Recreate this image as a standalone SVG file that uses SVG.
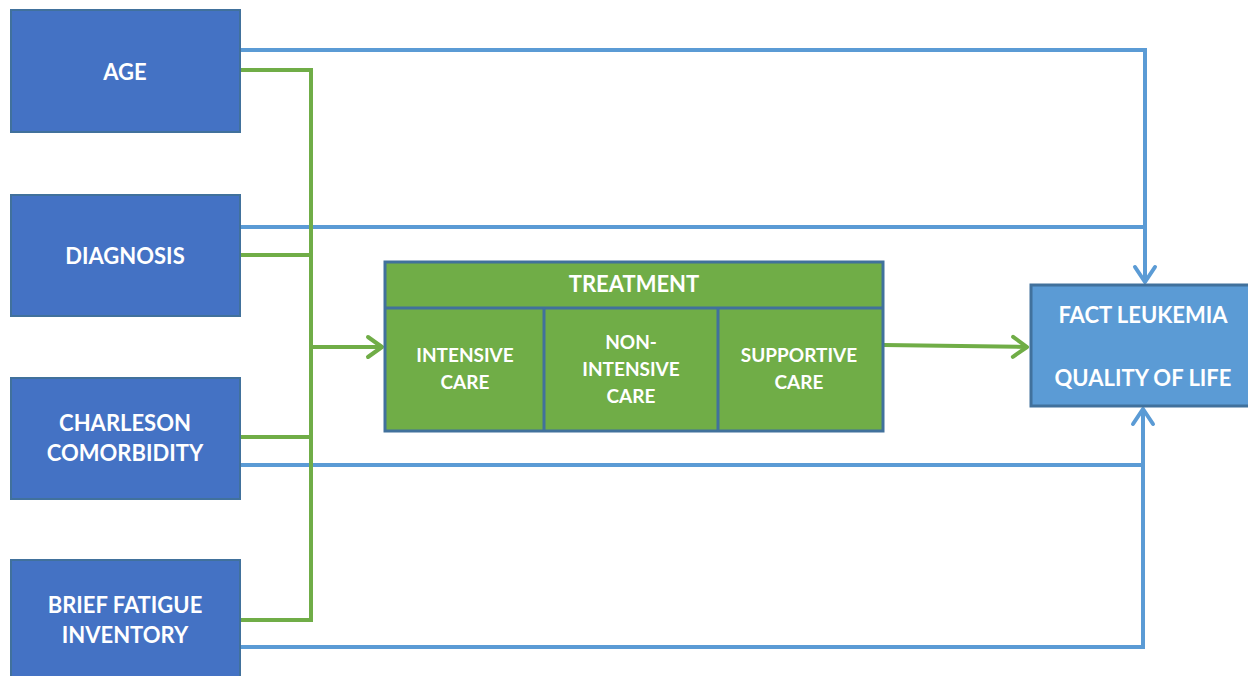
<svg xmlns="http://www.w3.org/2000/svg" width="1248" height="676" viewBox="0 0 1248 676">
<style>
.src{fill:#4472C4;stroke:#41719C;stroke-width:2}
.lbl{font-family:Lato,"Liberation Sans",sans-serif;font-weight:bold;font-size:19px;fill:#fff;text-anchor:middle}
.big{font-size:22px}
.blue{fill:none;stroke:#5B9BD5;stroke-width:4}
.green{fill:none;stroke:#70AD47;stroke-width:4}
.tbox{fill:#70AD47;stroke:#41719C;stroke-width:3}
</style>
<defs>
<marker id="ag" markerUnits="userSpaceOnUse" markerWidth="30" markerHeight="30" viewBox="-20 -15 30 30" refX="0" refY="0" orient="auto">
<path d="M-14,-10 L0,0 L-14,10" fill="none" stroke="#70AD47" stroke-width="4" stroke-linecap="round" stroke-linejoin="round"/>
</marker>
<marker id="ab" markerUnits="userSpaceOnUse" markerWidth="30" markerHeight="30" viewBox="-20 -15 30 30" refX="0" refY="0" orient="auto">
<path d="M-15,-10 L0,0 L-15,10" fill="none" stroke="#5B9BD5" stroke-width="4" stroke-linecap="round" stroke-linejoin="round"/>
</marker>
</defs>
<rect width="1248" height="676" fill="#fff"/>
<g id="connectors">
<path class="blue" d="M240,50 H1145 V282" marker-end="url(#ab)"/>
<path class="blue" d="M240,227 H1145"/>
<path class="blue" d="M240,465 H1143"/>
<path class="blue" d="M240,647 H1143 V409" marker-end="url(#ab)"/>
<path class="green" d="M240,70 H311 V620 H240"/>
<path class="green" d="M240,255 H311"/>
<path class="green" d="M240,437 H311"/>
<path class="green" d="M311,347 H382" marker-end="url(#ag)"/>
<path class="green" d="M884,345 L1027,347" marker-end="url(#ag)"/>
</g>
<g id="age">
<rect class="src" x="11" y="10" width="229" height="122"/>
<text class="lbl big" x="125" y="80">AGE</text>
</g>
<g id="diagnosis">
<rect class="src" x="11" y="195" width="229" height="121"/>
<text class="lbl big" x="125" y="264">DIAGNOSIS</text>
</g>
<g id="charleson">
<rect class="src" x="11" y="378" width="229" height="121"/>
<text class="lbl big" x="125" y="431">CHARLESON</text>
<text class="lbl big" x="125" y="461">COMORBIDITY</text>
</g>
<g id="brief">
<rect class="src" x="11" y="560" width="229" height="120"/>
<text class="lbl big" x="125" y="613">BRIEF FATIGUE</text>
<text class="lbl big" x="125" y="643">INVENTORY</text>
</g>
<g id="treatment">
<rect class="tbox" x="385" y="262" width="498" height="169"/>
<line x1="385" y1="308" x2="883" y2="308" stroke="#41719C" stroke-width="3"/>
<line x1="544" y1="308" x2="544" y2="431" stroke="#41719C" stroke-width="3"/>
<line x1="718" y1="308" x2="718" y2="431" stroke="#41719C" stroke-width="3"/>
<text class="lbl big" x="634" y="292">TREATMENT</text>
<text class="lbl" x="465" y="362">INTENSIVE</text>
<text class="lbl" x="465" y="389">CARE</text>
<text class="lbl" x="631" y="349">NON-</text>
<text class="lbl" x="631" y="376">INTENSIVE</text>
<text class="lbl" x="631" y="403">CARE</text>
<text class="lbl" x="799" y="362">SUPPORTIVE</text>
<text class="lbl" x="799" y="389">CARE</text>
</g>
<g id="fact">
<rect x="1031" y="285" width="220" height="121" fill="#5B9BD5" stroke="#41719C" stroke-width="3"/>
<text class="lbl big" x="1143" y="323">FACT LEUKEMIA</text>
<text class="lbl big" x="1143" y="386">QUALITY OF LIFE</text>
</g>
</svg>
